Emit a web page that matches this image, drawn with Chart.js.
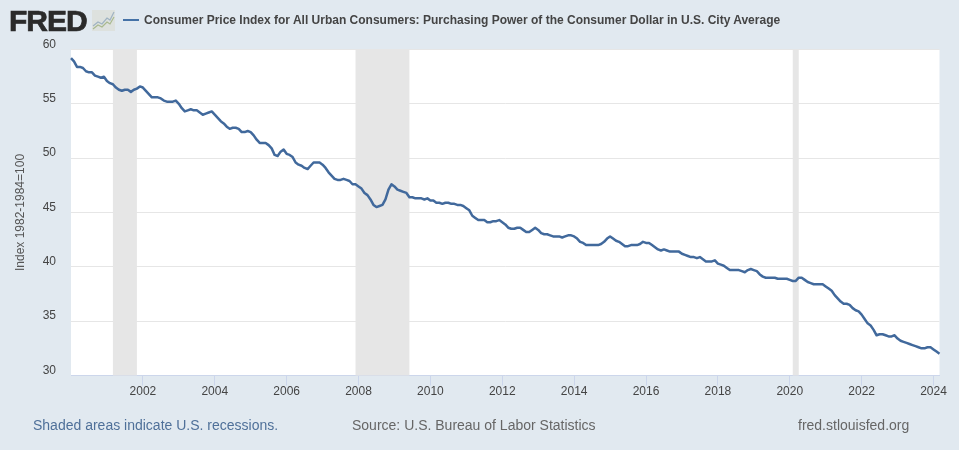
<!DOCTYPE html>
<html>
<head>
<meta charset="utf-8">
<title>FRED purchasing power</title>
<script src="https://cdn.jsdelivr.net/npm/chart.js@4"></script>
<style>
html, body { margin: 0; padding: 0; background: #e1e9f0; }
body { width: 959px; height: 450px; position: relative; overflow: hidden; font-family: "Liberation Sans", Arial, sans-serif; }
#wrap { position: absolute; left: 0; top: 0; width: 959px; height: 450px; }
.txt { position: absolute; white-space: nowrap; }
#logo { left: 9px; top: 4px; font-size: 30px; line-height: 34px; font-weight: bold; color: #2b2b2b; letter-spacing: -1px; -webkit-text-stroke: 0.7px #2b2b2b; }
#icon { position: absolute; left: 92px; top: 10px; }
#swatch { position: absolute; left: 123px; top: 19px; width: 16px; height: 2px; background: #4572a7; }
#legend { left: 144px; top: 13px; font-size: 12px; line-height: 15px; font-weight: bold; color: #444; }
.foot { top: 416px; font-size: 14px; line-height: 18px; color: #666; }
</style>
</head>
<body>
<div id="wrap"><canvas id="fredChart" width="959" height="450"></canvas></div>
<div id="logo" class="txt">FRED</div>
<svg id="icon" width="23" height="21">
  <rect x="0" y="0" width="23" height="21" fill="#dde1de"/>
  <polyline points="1,16 6,12 10,14 15,8 18,10 22,2" fill="none" stroke="#9fb3c2" stroke-width="1.2"/>
  <polyline points="1,19 6,15 10,17 15,12 18,14 22,7" fill="none" stroke="#a9b98f" stroke-width="1.2"/>
</svg>
<div id="swatch"></div>
<div id="legend" class="txt">Consumer Price Index for All Urban Consumers: Purchasing Power of the Consumer Dollar in U.S. City Average</div>
<div class="txt foot" style="left:33px;color:#4f7099">Shaded areas indicate U.S. recessions.</div>
<div class="txt foot" style="left:352px">Source: U.S. Bureau of Labor Statistics</div>
<div class="txt foot" style="left:798px">fred.stlouisfed.org</div>

<script>
// monthly, Jan 2000 to Mar 2024
var purchasingPower = [
  59.2,58.9,58.4,58.4,58.3,58.0,57.9,57.9,57.6,57.5,57.4,57.5,
  57.1,56.9,56.8,56.5,56.3,56.2,56.3,56.3,56.1,56.3,56.4,56.6,
  56.5,56.2,55.9,55.6,55.6,55.6,55.5,55.3,55.2,55.2,55.2,55.3,
  55.0,54.6,54.3,54.4,54.5,54.4,54.4,54.2,54.0,54.1,54.2,54.3,
  54.0,53.7,53.4,53.2,52.9,52.7,52.8,52.8,52.7,52.4,52.4,52.5,
  52.4,52.1,51.7,51.4,51.4,51.4,51.2,50.9,50.3,50.2,50.6,50.8,
  50.4,50.3,50.1,49.6,49.4,49.3,49.1,49.0,49.3,49.6,49.6,49.6,
  49.4,49.1,48.7,48.4,48.1,48.0,48.0,48.1,48.0,47.9,47.6,47.6,
  47.4,47.2,46.8,46.6,46.2,45.7,45.5,45.6,45.7,46.2,47.1,47.6,
  47.4,47.1,47.0,46.9,46.8,46.4,46.4,46.3,46.3,46.3,46.2,46.3,
  46.1,46.1,45.9,45.9,45.8,45.9,45.9,45.8,45.8,45.7,45.7,45.6,
  45.4,45.2,44.7,44.5,44.3,44.3,44.3,44.1,44.1,44.2,44.2,44.3,
  44.1,43.9,43.6,43.5,43.5,43.6,43.6,43.4,43.2,43.2,43.4,43.6,
  43.4,43.1,43.0,43.0,42.9,42.8,42.8,42.8,42.7,42.8,42.9,42.9,
  42.8,42.6,42.3,42.2,42.0,42.0,42.0,42.0,42.0,42.1,42.3,42.6,
  42.8,42.6,42.4,42.3,42.1,41.9,41.9,42.0,42.0,42.0,42.1,42.3,
  42.2,42.2,42.0,41.8,41.6,41.5,41.6,41.5,41.4,41.4,41.4,41.4,
  41.2,41.1,41.0,40.9,40.9,40.8,40.9,40.7,40.5,40.5,40.5,40.6,
  40.3,40.2,40.1,39.9,39.7,39.7,39.7,39.7,39.6,39.5,39.7,39.8,
  39.7,39.6,39.3,39.1,39.0,39.0,39.0,39.0,38.9,38.9,38.9,38.9,
  38.8,38.7,38.7,39.0,39.0,38.8,38.6,38.5,38.4,38.4,38.4,38.4,
  38.2,38.0,37.8,37.4,37.1,36.8,36.6,36.6,36.5,36.2,36.0,35.9,
  35.6,35.2,34.8,34.6,34.2,33.7,33.8,33.8,33.7,33.6,33.6,33.7,
  33.4,33.2,33.1,33.0,32.9,32.8,32.7,32.6,32.5,32.5,32.6,32.6,
  32.4,32.2,32.0
];
var yTicks = [30, 35, 40, 45, 50, 55, 60];
var xTickYears = [2002, 2004, 2006, 2008, 2010, 2012, 2014, 2016, 2018, 2020, 2022, 2024];
var recessionStarts = ["2001-03", "2007-12", "2020-02"];
var recessionEnds = ["2001-11", "2009-06", "2020-04"];

var months = [];
purchasingPower.forEach(function (v, i) {
  var m = i % 12 + 1;
  months.push((2000 + Math.floor(i / 12)) + "-" + (m < 10 ? "0" + m : m));
});

var fredBands = {
  id: "fredBands",
  beforeDraw: function (chart) {
    var a = chart.chartArea, c = chart.ctx, top = Math.round(a.top);
    c.fillStyle = "#ffffff";
    c.fillRect(a.left, top, a.right - a.left, a.bottom - top);
  },
  beforeDatasetsDraw: function (chart) {
    var a = chart.chartArea, c = chart.ctx, x = chart.scales.x, top = Math.round(a.top);
    c.fillStyle = "#e6e6e6";
    recessionStarts.forEach(function (s, i) {
      var x0 = x.getPixelForValue(months.indexOf(s));
      var x1 = x.getPixelForValue(months.indexOf(recessionEnds[i]));
      c.fillRect(x0, top, x1 - x0, a.bottom - top);
    });
  }
};

new Chart(document.getElementById("fredChart"), {
  type: "line",
  data: {
    labels: months,
    datasets: [{
      label: "Purchasing Power",
      data: purchasingPower,
      borderColor: "#41699c",
      borderWidth: 2.5,
      pointRadius: 0,
      tension: 0,
      borderJoinStyle: "round"
    }]
  },
  options: {
    responsive: false,
    animation: false,
    layout: { padding: { top: 49.5, right: 19.5, bottom: 0, left: 0 } },
    plugins: { legend: { display: false }, tooltip: { enabled: false } },
    scales: {
      x: {
        type: "category",
        offset: false,
        afterBuildTicks: function (s) {
          s.ticks = xTickYears.map(function (y) { return { value: months.indexOf(y + "-01") }; });
        },
        afterFit: function (s) { s.height = 74.5; },
        grid: { drawOnChartArea: false, color: "#ccd6eb", tickLength: 10, tickWidth: 1 },
        border: { color: "#ccd6eb", width: 1 },
        ticks: {
          autoSkip: false,
          maxRotation: 0,
          padding: -1.5,
          color: "#444",
          font: { family: "'Liberation Sans', Arial, sans-serif", size: 12 },
          callback: function (v) { return months[v].slice(0, 4); }
        }
      },
      y: {
        min: 30,
        max: 60,
        afterBuildTicks: function (s) {
          s.ticks = yTicks.map(function (v) { return { value: v }; });
        },
        afterFit: function (s) { s.width = 71; },
        grid: { color: "#e6e6e6", tickLength: 0, drawTicks: false },
        border: { display: false },
        title: {
          display: true,
          text: "Index 1982-1984=100",
          color: "#555",
          font: { family: "'Liberation Sans', Arial, sans-serif", size: 12 },
          padding: { top: 13, bottom: 0 }
        },
        ticks: {
          padding: 15,
          color: "#444",
          font: { family: "'Liberation Sans', Arial, sans-serif", size: 12, lineHeight: 0.85 },
          // empty second line lifts the number above its grid line, as FRED does
          callback: function (v) { return [String(v), ""]; }
        }
      }
    }
  },
  plugins: [fredBands]
});
</script>
</body>
</html>
